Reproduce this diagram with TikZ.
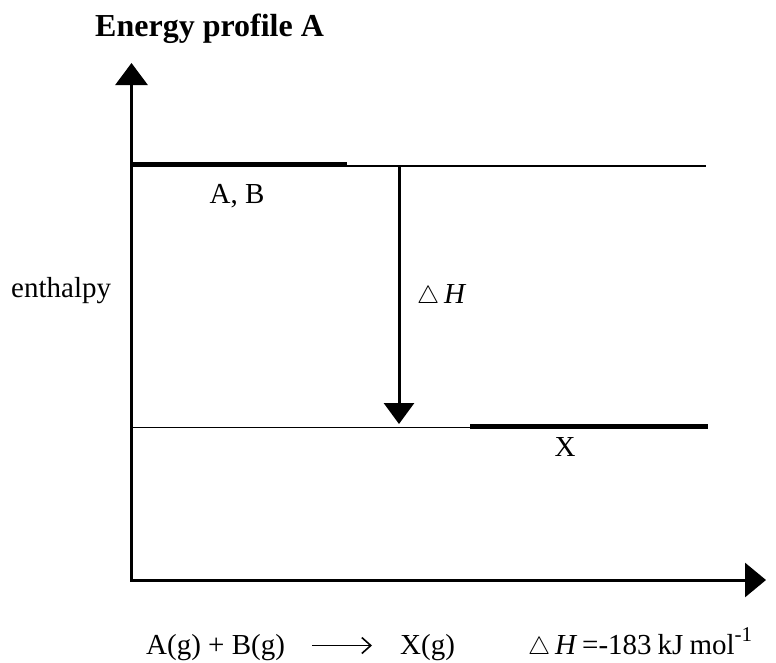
\documentclass[tikz,border=0pt]{standalone}
\usepackage{fontspec}
\setmainfont{Liberation Serif}
\usetikzlibrary{arrows.meta}
\begin{document}
\begin{tikzpicture}[x=1pt,y=-1pt,
  lbl/.style={inner sep=0pt,font=\fontsize{29}{31}\selectfont,anchor=base west},
  ttl/.style={inner sep=0pt,font=\fontsize{32}{34}\selectfont\bfseries,anchor=base west},
  axisline/.style={line width=3pt,line join=miter},
  thinlevel/.style={line width=1.6pt},
  thicklevel/.style={line width=4.6pt},
  dharrow/.style={line width=3pt,-{Triangle[width=30pt,length=21pt]}},
  rxnarrow/.style={line width=1.6pt,-{Straight Barb[length=9pt,width=16pt,line width=1.6pt]}}]
\useasboundingbox (0,0) rectangle (776,662);
% title
\node[ttl] (title) at (95,36) {Energy profile A};
% axes
\coordinate (O) at (131.5,580);
\coordinate (ytip) at (131.5,63);
\coordinate (xtip) at (766,580);
\draw[axisline,{Triangle[width=32pt,length=22pt]}-{Triangle[width=34pt,length=21pt]}] (ytip) -- (O) -- (xtip);
% levels
\coordinate (topL) at (131.5,165.8);
\coordinate (topR) at (706,165.8);
\coordinate (topTL) at (131.5,164.2);
\coordinate (topTR) at (347,164.2);
\draw[thinlevel] (topL) -- (topR);
\draw[thicklevel] (topTL) -- (topTR);
\coordinate (botL) at (131.5,427.5);
\coordinate (botR) at (470,427.5);
\coordinate (botTL) at (470,426.2);
\coordinate (botTR) at (708,426.2);
\draw[thinlevel] (botL) -- (botR);
\draw[thicklevel] (botTL) -- (botTR);
% delta H arrow
\coordinate (dtop) at (399,165);
\coordinate (dbot) at (399,424);
\draw[dharrow] (dtop) -- (dbot);
% labels
\node[lbl,anchor=base] (AB) at (237,203) {A, B};
\node[lbl,anchor=base] (X) at (565,456) {X};
\node[lbl] (enth) at (11,297) {enthalpy};
\node[lbl] (dH) at (417,303) {$\triangle$\,\textit{H}};
% equation
\node[lbl] (eqL) at (146,654) {A(g) + B(g)};
\node[lbl] (eqR) at (400,654) {X(g)};
\node[lbl] (eqH) at (528,654) {$\triangle$\,\textit{H}\,=-183\hspace{6pt}kJ\hspace{6pt}mol\raisebox{13pt}{\fontsize{21}{22}\selectfont -1}};
\coordinate (ra) at (312,645.5);
\coordinate (rb) at (372,645.5);
\draw[rxnarrow] (ra) -- (rb);
\end{tikzpicture}
\end{document}
